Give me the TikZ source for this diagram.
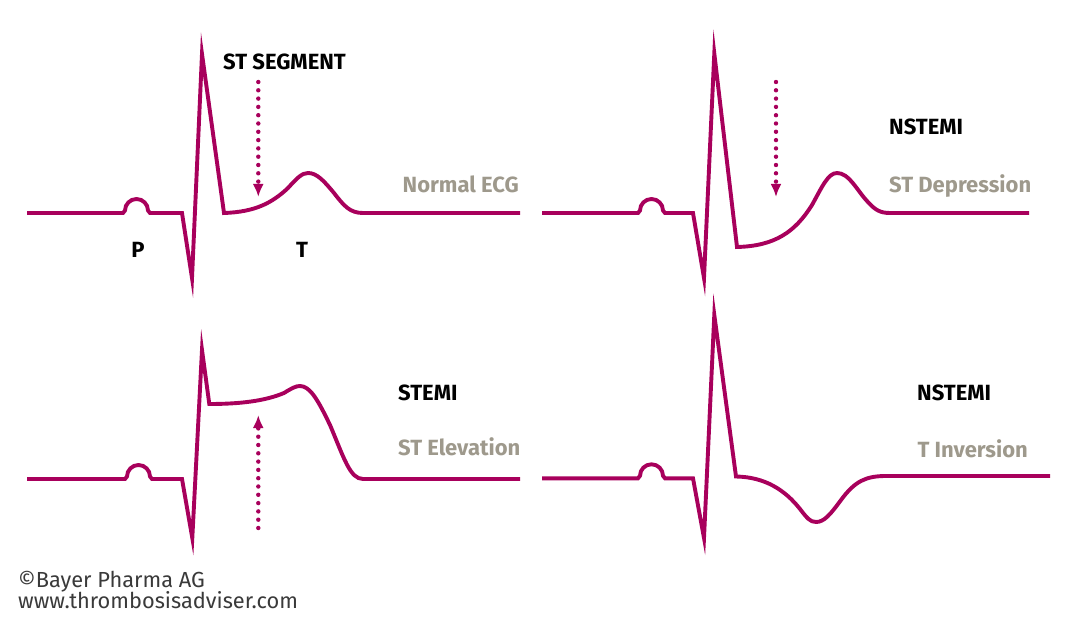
\documentclass[tikz,border=0pt]{standalone}
\usepackage{fontspec}
\setmainfont{Fira Sans}
\usetikzlibrary{arrows.meta}
\definecolor{ecg}{HTML}{A8005C}
\definecolor{lblgrey}{HTML}{9E998C}
\definecolor{foot}{HTML}{3A3A3A}
\tikzset{
  wave/.style={draw=ecg, line width=3.9pt, line join=miter, miter limit=20},
  dotarrow/.style={draw=ecg, line width=4.4pt, line cap=round, dash pattern=on 0pt off 8.3pt,
     -{Latex[length=13pt,width=11pt]}},
  blk/.style={font=\fontsize{22}{22}\selectfont\bfseries, text=black, inner sep=0pt},
  gry/.style={font=\fontsize{22}{22}\selectfont\bfseries, text=lblgrey, inner sep=0pt},
  ftr/.style={font=\fontsize{21.8}{22}\selectfont, text=foot, inner sep=0pt, anchor=base west}
}
\begin{document}
\begin{tikzpicture}[x=1pt,y=-1pt]
\useasboundingbox[fill=white] (0,0) rectangle (1080,623);

% ---------- Panel 1: Normal ECG
\draw[wave] (27,213) -- (123,213) -- (125,210.5) arc[start angle=180,end angle=360,radius=11.5]
  -- (150,213) -- (182,213) -- (192,278) -- (202,54) -- (224,213)
  .. controls (255,212) and (272,203) .. (288,188)
  .. controls (297,178) and (302,173) .. (308,173)
  .. controls (317,173) and (324,181) .. (334,193)
  .. controls (344,206) and (350,213) .. (363,213) -- (520,213);
\coordinate (a1s) at (258.3,82);
\coordinate (a1e) at (258.3,197);
\draw[dotarrow] (a1s) -- (a1e);
\node[blk, anchor=base] (stseg) at (284.5,70) {ST SEGMENT};
\node[gry, anchor=base east] (normal) at (519,193) {Normal ECG};
\node[blk, anchor=base] (p) at (138,258) {P};
\node[blk, anchor=base] (t) at (302,258) {T};

% ---------- Panel 2: ST depression
\draw[wave] (542,213) -- (638,213) -- (640,210.5) arc[start angle=180,end angle=360,radius=11.5]
  -- (665,213) -- (693,213) -- (704,278) -- (714.3,53.5) -- (737,247)
  .. controls (775,246) and (795,232) .. (812,205)
  .. controls (822,187) and (828,173) .. (837,173)
  .. controls (849,173) and (856,189) .. (867,201)
  .. controls (875,210) and (880,213) .. (890,213) -- (1029,213);
\coordinate (a2s) at (776,82);
\coordinate (a2e) at (776,197);
\draw[dotarrow] (a2s) -- (a2e);
\node[blk, anchor=base west] (nstemi1) at (889,135) {NSTEMI};
\node[gry, anchor=base west] (stdep) at (889,193) {ST Depression};

% ---------- Panel 3: ST elevation
\draw[wave] (27,479) -- (125,479) -- (127,476.5) arc[start angle=180,end angle=360,radius=11.5]
  -- (152,479) -- (182,479) -- (192.3,538) -- (202,350) -- (209.3,404)
  .. controls (240,404) and (265,401) .. (284,393)
  .. controls (292,388) and (296,386) .. (300,386)
  .. controls (310,386) and (318,400) .. (330,425)
  .. controls (344,458) and (350,479) .. (363,479) -- (520,479);
\coordinate (a3s) at (258.3,528);
\coordinate (a3e) at (258.3,415);
\draw[dotarrow] (a3s) -- (a3e);
\node[blk, anchor=base west] (stemi) at (398,400) {STEMI};
\node[gry, anchor=base west] (stel) at (398,455) {ST Elevation};

% ---------- Panel 4: T inversion
\draw[wave] (542,478.3) -- (638,478.3) -- (640,475.8) arc[start angle=180,end angle=360,radius=11.5]
  -- (665,478.3) -- (693,478.3) -- (704,538) -- (714.3,315) -- (736,476.5)
  .. controls (765,477) and (785,490) .. (800,509)
  .. controls (807,518) and (810,522) .. (816,522)
  .. controls (824,522) and (830,515) .. (841,500)
  .. controls (855,481) and (866,476) .. (886,476) -- (1050,476);
\node[blk, anchor=base west] (nstemi2) at (917,400) {NSTEMI};
\node[gry, anchor=base east] (tinv) at (1028,457) {T Inversion};

% ---------- Footer
\node[ftr] (copy) at (18,587) {©Bayer Pharma AG};
\node[ftr] (web) at (18,608) {www.thrombosisadviser.com};
\end{tikzpicture}
\end{document}
